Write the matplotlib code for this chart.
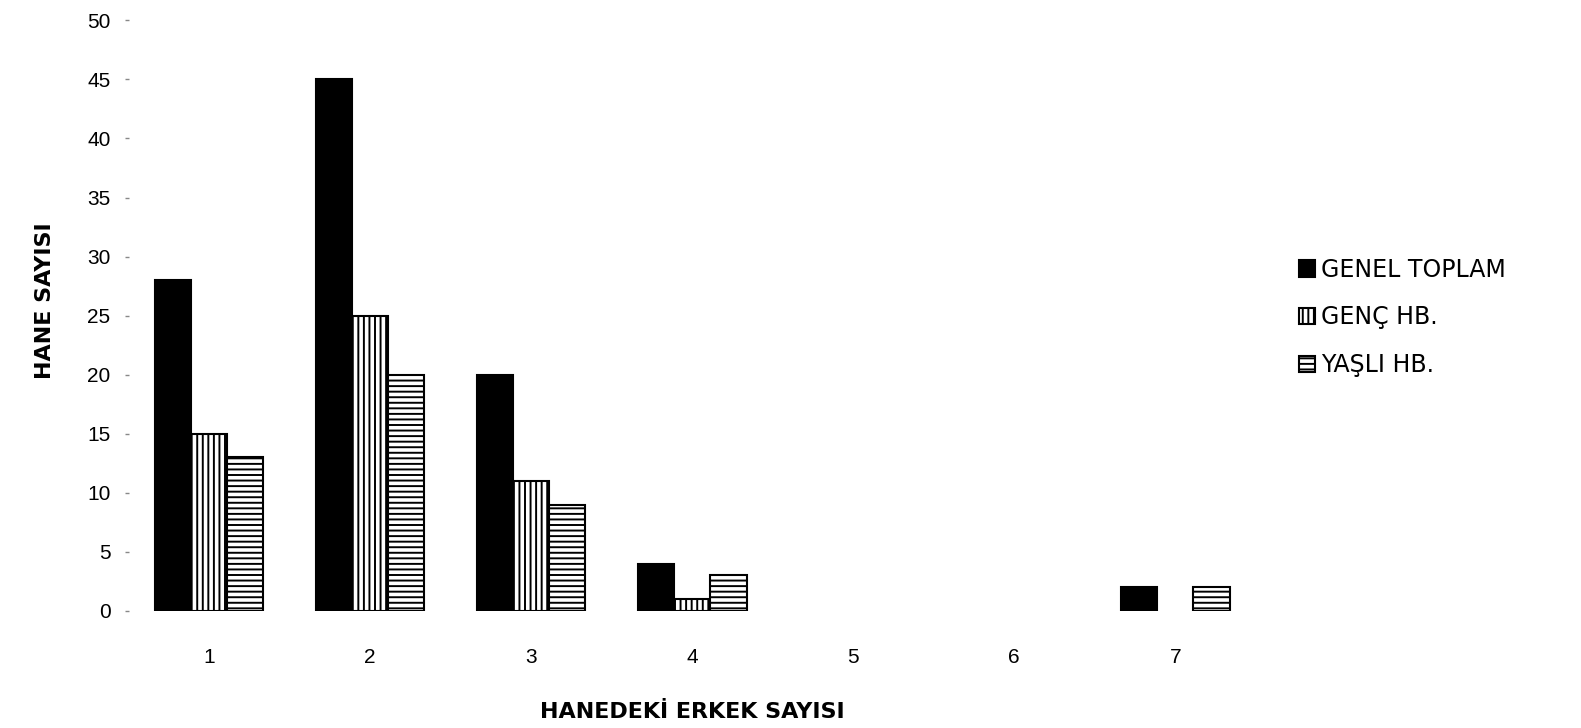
import matplotlib.pyplot as plt
import numpy as np

plt.rcParams['font.family'] = ['Liberation Sans', 'DejaVu Sans']
plt.rcParams['hatch.linewidth'] = 1.4

erkek_sayisi = ["1", "2", "3", "4", "5", "6", "7"]
genel_toplam = [28, 45, 20, 4, 0, 0, 2]
genc_hb = [15, 25, 11, 1, 0, 0, 0]
yasli_hb = [13, 20, 9, 3, 0, 0, 2]

series = [
    ("GENEL TOPLAM", genel_toplam, "black", None),
    ("GENÇ HB.", genc_hb, "white", "|||"),
    ("YAŞLI HB.", yasli_hb, "white", "---"),
]

fig = plt.figure(figsize=(15.81, 7.28), dpi=100)
ax = fig.add_axes([0.0813, 0.161, 0.713, 0.811])

x = np.arange(1, len(erkek_sayisi) + 1)
width = 0.225
handles = []
for i, (name, vals, face, hatch) in enumerate(series):
    vals = np.array(vals, dtype=float)
    mask = vals > 0
    bars = ax.bar(x[mask] + (i - 1) * width, vals[mask], width,
                  color=face, edgecolor="black", hatch=hatch,
                  linewidth=1.5, label=name)
    handles.append(bars)

ax.set_xlim(0.5, 7.5)
ax.set_ylim(0, 50)
ax.set_yticks(np.arange(0, 51, 5))
ax.set_xticks(x)
ax.set_xticklabels(erkek_sayisi)
for s in ax.spines.values():
    s.set_visible(False)
ax.tick_params(axis="y", length=3, width=1, color="#888888", pad=10, labelsize=15)
ax.tick_params(axis="x", length=0, pad=27, labelsize=15)

ax.set_ylabel("HANE SAYISI", fontsize=16, fontweight="bold",
              family=["DejaVu Sans"])
ax.yaxis.set_label_coords(-0.065, 0.525)
ax.set_xlabel("HANEDEKİ ERKEK SAYISI", fontsize=16, fontweight="bold",
              family=["DejaVu Sans"])
ax.xaxis.set_label_coords(0.5, -0.155)

fig.legend(handles=handles, loc="upper left", bbox_to_anchor=(0.808, 0.675),
           frameon=False, prop={"family": "DejaVu Sans", "size": 17},
           handlelength=0.7, handleheight=0.7,
           handletextpad=0.25, labelspacing=1.0)

fig.savefig("out.png", dpi=100)
